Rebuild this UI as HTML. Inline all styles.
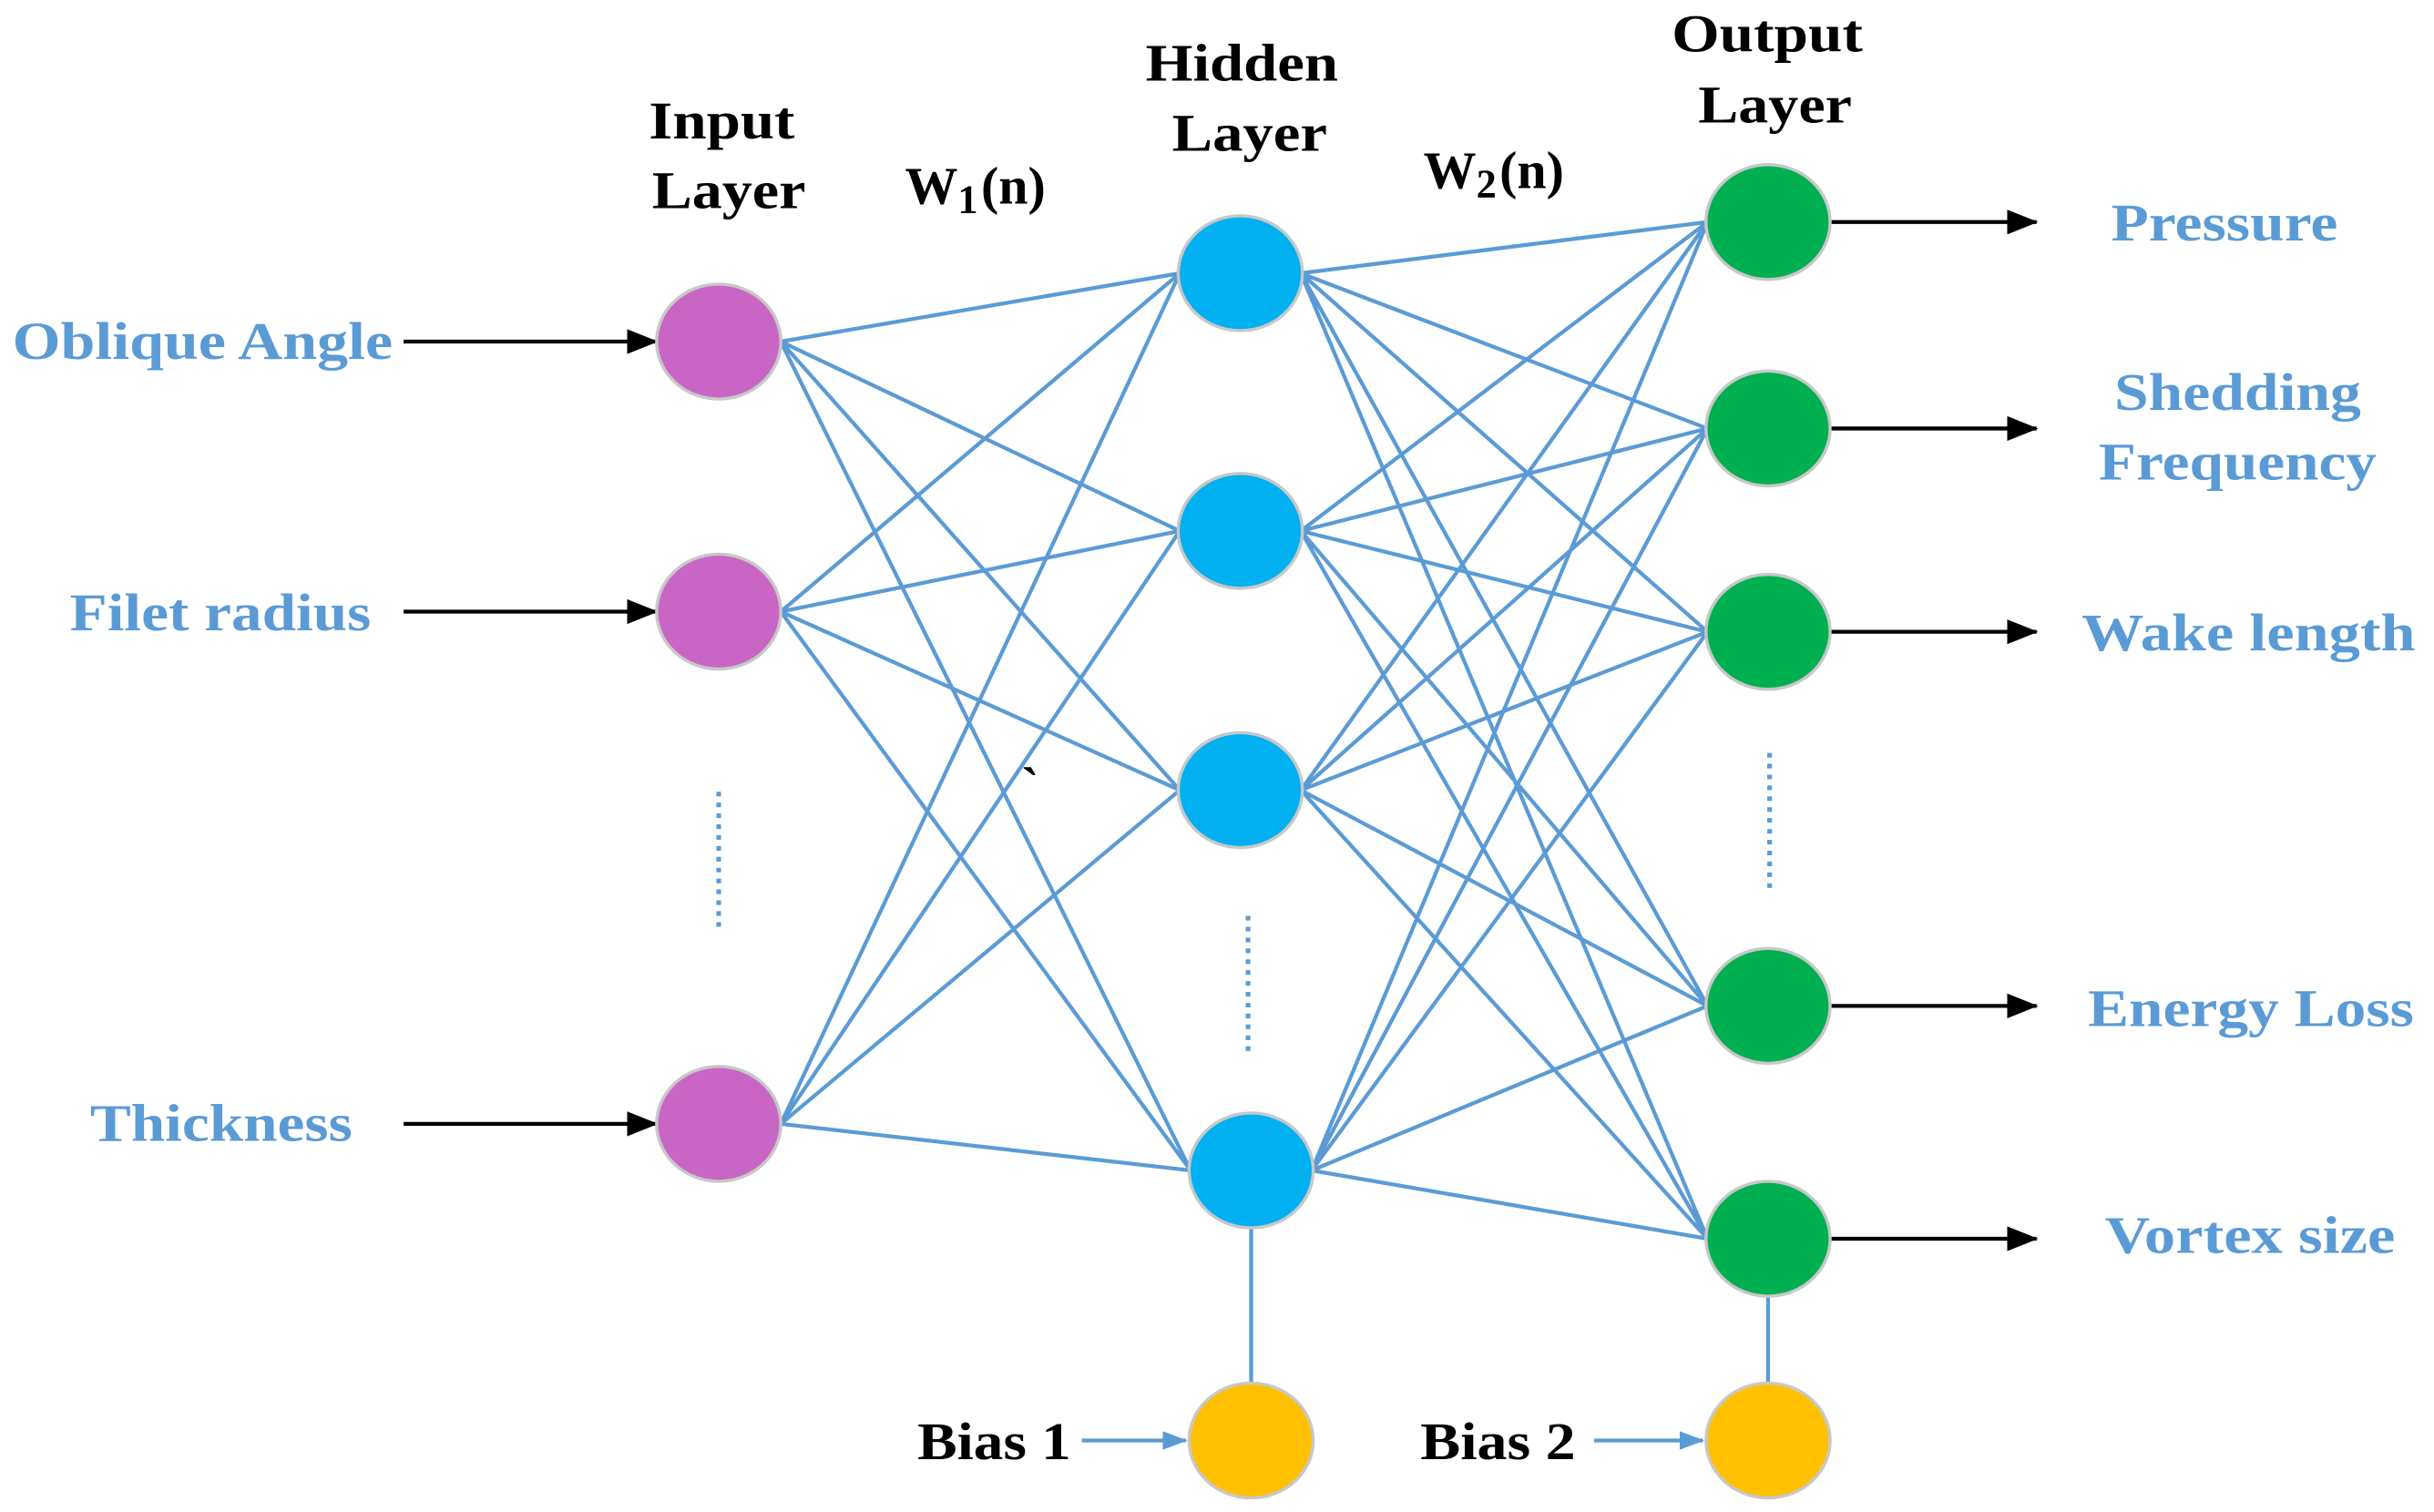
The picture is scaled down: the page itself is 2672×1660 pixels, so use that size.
<!DOCTYPE html>
<html><head><meta charset="utf-8"><style>
html,body{margin:0;padding:0;background:#fff;width:2672px;height:1660px;overflow:hidden}
svg{display:block}
text{font-family:"Liberation Serif",serif;font-weight:bold}
.b{fill:#5b9bd5;font-size:34px}
.k{fill:#000;font-size:34px}
</style></head><body>
<svg width="2672" height="1660" viewBox="0 0 1568 974" xmlns="http://www.w3.org/2000/svg">
<defs>
<marker id="ak" markerWidth="20" markerHeight="16" refX="19" refY="8" orient="auto" markerUnits="userSpaceOnUse" viewBox="0 0 20 16"><path d="M0,0 L20,8 L0,16 z" fill="#000"/></marker>
<marker id="ab" markerWidth="16" markerHeight="12" refX="15" refY="6" orient="auto" markerUnits="userSpaceOnUse" viewBox="0 0 16 12"><path d="M0,0 L16,6 L0,12 z" fill="#5b9bd5"/></marker>
</defs>
<g stroke="#5b9bd5" stroke-width="2.5" fill="none">
<path d="M503,220L760,176M503,220L760,342M503,220L760,509M503,220L767,754
M503,394L760,176M503,394L760,342M503,394L760,509M503,394L767,754
M503,724L760,176M503,724L760,342M503,724L760,509M503,724L767,754"/>
<path d="M838,176L1100,143M838,176L1100,276M838,176L1100,407M838,176L1100,648M838,176L1100,798
M838,342L1100,143M838,342L1100,276M838,342L1100,407M838,342L1100,648M838,342L1100,798
M838,509L1100,143M838,509L1100,276M838,509L1100,407M838,509L1100,648M838,509L1100,798
M845,754L1100,143M845,754L1100,276M845,754L1100,407M845,754L1100,648M845,754L1100,798"/>
<path d="M806,790L806,892M1139,834L1139,892"/>
<path d="M463,510L463,600M804,590L804,680M1140,485L1140,575" stroke-dasharray="3,4" stroke-width="3"/>
<path d="M697,928L764,928" marker-end="url(#ab)"/>
<path d="M1027,928L1097,928" marker-end="url(#ab)"/>
</g>
<g stroke="#000" stroke-width="2.5">
<path d="M260,220L423,220" marker-end="url(#ak)"/>
<path d="M260,394L423,394" marker-end="url(#ak)"/>
<path d="M260,724L423,724" marker-end="url(#ak)"/>
<path d="M1178,143L1312,143" marker-end="url(#ak)"/>
<path d="M1178,276L1312,276" marker-end="url(#ak)"/>
<path d="M1178,407L1312,407" marker-end="url(#ak)"/>
<path d="M1178,648L1312,648" marker-end="url(#ak)"/>
<path d="M1178,798L1312,798" marker-end="url(#ak)"/>
</g>
<g stroke="#c8c8c8" stroke-width="2">
<ellipse cx="463" cy="220" rx="40" ry="37" fill="#c966c5"/>
<ellipse cx="463" cy="394" rx="40" ry="37" fill="#c966c5"/>
<ellipse cx="463" cy="724" rx="40" ry="37" fill="#c966c5"/>
<ellipse cx="799" cy="176" rx="40" ry="37" fill="#00b0f0"/>
<ellipse cx="799" cy="342" rx="40" ry="37" fill="#00b0f0"/>
<ellipse cx="799" cy="509" rx="40" ry="37" fill="#00b0f0"/>
<ellipse cx="806" cy="754" rx="40" ry="37" fill="#00b0f0"/>
<ellipse cx="806" cy="928" rx="40" ry="37" fill="#ffc000"/>
<ellipse cx="1139" cy="143" rx="40" ry="37" fill="#00b050"/>
<ellipse cx="1139" cy="276" rx="40" ry="37" fill="#00b050"/>
<ellipse cx="1139" cy="407" rx="40" ry="37" fill="#00b050"/>
<ellipse cx="1139" cy="648" rx="40" ry="37" fill="#00b050"/>
<ellipse cx="1139" cy="798" rx="40" ry="37" fill="#00b050"/>
<ellipse cx="1139" cy="928" rx="40" ry="37" fill="#ffc000"/>
</g>
<text x="418" y="89" class="k" textLength="94" lengthAdjust="spacingAndGlyphs">Input</text>
<text x="420" y="134" class="k" textLength="99" lengthAdjust="spacingAndGlyphs">Layer</text>
<text x="738" y="52" class="k" textLength="124" lengthAdjust="spacingAndGlyphs">Hidden</text>
<text x="755" y="97" class="k" textLength="100" lengthAdjust="spacingAndGlyphs">Layer</text>
<text x="1077" y="33" class="k" textLength="123" lengthAdjust="spacingAndGlyphs">Output</text>
<text x="1094" y="79" class="k" textLength="99" lengthAdjust="spacingAndGlyphs">Layer</text>
<text x="583" y="131" class="k" font-size="36">W<tspan font-size="26" dy="6">1</tspan><tspan dy="-6" dx="2">(n)</tspan></text>
<text x="917" y="121" class="k" font-size="36">W<tspan font-size="26" dy="6">2</tspan><tspan dy="-6" dx="2">(n)</tspan></text>
<text x="658" y="518" class="k" font-size="16">`</text>
<text x="591" y="940" class="k" textLength="99" lengthAdjust="spacingAndGlyphs">Bias 1</text>
<text x="915" y="940" class="k" textLength="100" lengthAdjust="spacingAndGlyphs">Bias 2</text>
<text x="8" y="231" class="b" textLength="245" lengthAdjust="spacingAndGlyphs">Oblique Angle</text>
<text x="45" y="406" class="b" textLength="194" lengthAdjust="spacingAndGlyphs">Filet radius</text>
<text x="58" y="735" class="b" textLength="169" lengthAdjust="spacingAndGlyphs">Thickness</text>
<text x="1360" y="155" class="b" textLength="146" lengthAdjust="spacingAndGlyphs">Pressure</text>
<text x="1362" y="264" class="b" textLength="159" lengthAdjust="spacingAndGlyphs">Shedding</text>
<text x="1352" y="309" class="b" textLength="179" lengthAdjust="spacingAndGlyphs">Frequency</text>
<text x="1341" y="419" class="b" textLength="215" lengthAdjust="spacingAndGlyphs">Wake length</text>
<text x="1345" y="661" class="b" textLength="210" lengthAdjust="spacingAndGlyphs">Energy Loss</text>
<text x="1356" y="807" class="b" textLength="187" lengthAdjust="spacingAndGlyphs">Vortex size</text>
</svg>
</body></html>
